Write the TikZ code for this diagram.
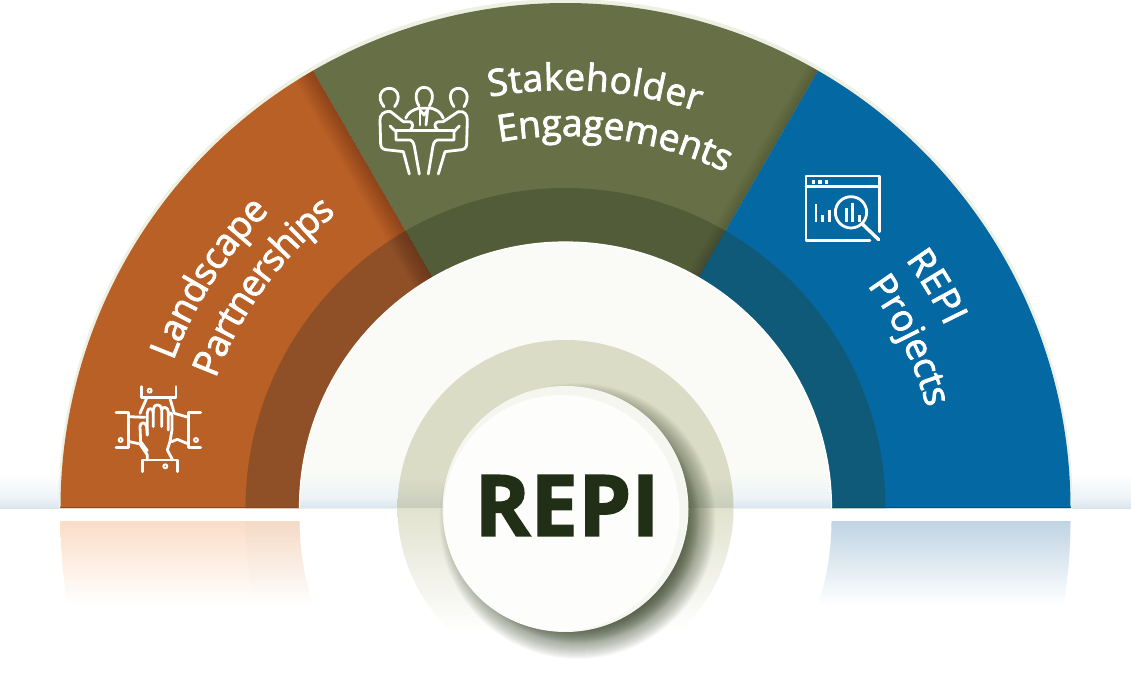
\documentclass[tikz,border=0pt]{standalone}
\usepackage{fontspec}
\newfontfamily\lab[FakeBold=2.2]{Open Sans}
\newfontfamily\hubfont[BoldFeatures={FakeBold=1.6}]{Open Sans}
\newcommand{\labsize}{\fontsize{37}{37}\selectfont}
\definecolor{org}{HTML}{B96027}
\definecolor{orgd}{HTML}{8F5028}
\definecolor{grn}{HTML}{676F46}
\definecolor{grnd}{HTML}{535C38}
\definecolor{blu}{HTML}{0468A3}
\definecolor{blud}{HTML}{0F5A78}
\definecolor{inner}{HTML}{FAFBF6}
\definecolor{hz}{HTML}{DAE6EE}
\definecolor{ringc}{HTML}{DADCC5}
\definecolor{rimc}{HTML}{EFF0E4}
\definecolor{shc}{HTML}{3E4A30}
\definecolor{hubtxt}{HTML}{212F17}
\newcommand{\segpath}[4]{(#1:#3) arc[start angle=#1,end angle=#2,radius=#3] -- (#2:#4) arc[start angle=#2,end angle=#1,radius=#4] -- cycle}
\newcommand{\curvelabel}[4]{%
 \gdef\cumw{0}%
 \foreach \ch/\w in {#4}{\pgfmathsetmacro\tmpw{\cumw+\w}\xdef\cumw{\tmpw}}%
 \global\let\totw\cumw
 \gdef\cumw{0}%
 \foreach \ch/\w in {#4}{%
  \pgfmathsetmacro\ang{#1+(#2-(#1))*((\cumw+0.5*\w)/\totw)}%
  \node[lettr,rotate=\ang-90] (glyph-\ch) at (\ang:#3) {\ch};
  \pgfmathsetmacro\tmpw{\cumw+\w}\xdef\cumw{\tmpw}%
 }}
\tikzset{icon/.style={draw=white,line width=2.8pt,line cap=round,line join=round,fill=none},
 zoomed/.style={x=0.3333pt,y=-0.3333pt},
 lettr/.style={font=\lab\labsize,text=white,inner sep=0pt,anchor=base}}
\begin{document}
\begin{tikzpicture}[x=1pt,y=1pt]
\useasboundingbox (-565.5,-169) rectangle (565.5,508);
\fill[white] (-565.5,-169) rectangle (565.5,508);
% horizon haze
\shade[top color=white,bottom color=white!50!hz] (-565.5,10) rectangle (565.5,34);
\shade[top color=white!50!hz,bottom color=hz] (-565.5,0) rectangle (565.5,10);
% rim
\begin{scope}
\clip (-520,0) rectangle (520,520);
\fill[rimc] (0,2) circle[radius=507];
\end{scope}
% bands
\fill[org] \segpath{180}{120}{505}{266};
\fill[grn] \segpath{120}{60}{505}{266};
\fill[blu] \segpath{60}{0}{505}{266};
\fill[orgd] \segpath{180}{120}{320}{266};
\fill[grnd] \segpath{120}{60}{320}{266};
\fill[blud] \segpath{60}{0}{320}{266};
% shadows cast across the boundaries
\begin{scope}
\clip \segpath{180}{120}{505}{266};
\foreach \w in {3,6,...,42}{\draw[black,opacity=0.014,line width=\w pt] (120:240) -- (120:520);}
\end{scope}
\begin{scope}
\clip \segpath{120}{60}{505}{266};
\foreach \w in {3,6,...,24}{\draw[black,opacity=0.014,line width=\w pt] (60:240) -- (60:520);}
\end{scope}
\draw[org!75!black,line width=1pt] (-505,0.5) -- (-266,0.5);
\draw[blu!75!black,line width=1pt] (266,0.5) -- (505,0.5);
% inner half disc
\fill[inner] (-266,0) arc[start angle=180,end angle=0,radius=266] -- cycle;
\begin{scope}
\clip (-266,0) arc[start angle=180,end angle=0,radius=266] -- cycle;
\shade[top color=inner,bottom color=white!50!hz] (-270,10) rectangle (270,36);
\shade[top color=white!50!hz,bottom color=hz] (-270,0) rectangle (270,10);
\end{scope}
\draw[white,line width=1.2pt] (-266,0) arc[start angle=180,end angle=0,radius=266];
% reflections
\shade[top color={rgb,255:red,251;green,221;blue,199},bottom color=white]
 (-505,-13) arc[start angle=180,end angle=189.6,radius=505] -- (-252.4,-97) arc[start angle=198.4,end angle=180,radius=266] -- cycle;
\shade[top color={rgb,255:red,191;green,212;blue,227},bottom color=white]
 (505,-13) arc[start angle=0,end angle=-9.6,radius=505] -- (252.4,-97) arc[start angle=-18.4,end angle=0,radius=266] -- cycle;
\shade[top color={rgb,255:red,241;green,216;blue,196},bottom color=white,opacity=0.5]
 (-320,-13) arc[start angle=180,end angle=195.2,radius=320] -- (-252.4,-97) arc[start angle=198.4,end angle=180,radius=266] -- cycle;
% halo ring
\begin{scope}
\clip (0,0) circle[radius=168];
\fill[ringc] (-170,30) rectangle (170,170);
\shade[top color=ringc,bottom color=ringc!80!hz!92!black] (-170,0) rectangle (170,30);
\shade[top color={rgb,255:red,225;green,226;blue,206},bottom color=white] (-170,0) rectangle (170,-124);
\end{scope}
% hub shadow
\foreach \r in {123,124,...,138}{\fill[shc,opacity=0.03] (12,-13) circle[radius=\r];}
\foreach \r in {100,101,...,122}{\fill[shc,opacity=0.07] (12,-13) circle[radius=\r];}
\fill[rimc!60!white] (0,-1) circle[radius=123];
\fill[white!70!inner] (-4,-5) circle[radius=118];
\node[font=\hubfont\bfseries\fontsize{85}{85}\selectfont,text=hubtxt,inner sep=0pt] (hub) at (1.5,2.5) {REPI};
% band titles
\curvelabel{159.4}{135}{419}{L/1062,a/1139,n/1257,d/1255,s/977,c/975,a/1139,p/1255,e/1149}
\curvelabel{159.6}{128}{373}{P/1233,a/1139,r/836,t/723,n/1257,e/1149,r/836,s/977,h/1257,i/518,p/1255,s/977}
\curvelabel{100.5}{71.5}{418}{S/1124,t/723,a/1139,k/1075,e/1149,h/1257,o/1237,l/518,d/1255,e/1149,r/836}
\curvelabel{100.3}{64.5}{372}{E/1147,n/1257,g/1122,a/1139,g/1122,e/1149,m/1905,e/1149,n/1257,t/723,s/977}
\curvelabel{36.2}{25.5}{421}{R/1266,E/1147,P/1233,I/571}
\curvelabel{36.4}{15.5}{375}{P/1233,r/836,o/1237,j/518,e/1149,c/975,t/723,s/977}
% hands icon
\begin{scope}[shift={(-475.5,138)},zoomed]
\draw[icon] (155,50)--(155,82)--(258,82)--(258,50);
\draw[icon] (158,305)--(158,270)--(262,270)--(262,305);
\draw[icon] (78,127)--(115,127)--(115,232)--(78,232);
\draw[icon] (332,127)--(295,127)--(295,232)--(332,232);
\foreach \p in {(179,62),(226,289),(92,210),(318,210)}{\fill[white] \p circle[radius=9]; \fill[org] \p circle[radius=2.5];}
\draw[icon] (170,85)--(150,130); \draw[icon] (240,85)--(253,130)--(295,142);
\draw[icon] (115,140)--(165,142); \draw[icon] (295,222)--(262,208)--(245,215);
\draw[icon] (118,215)--(150,222)--(172,255)--(172,270);
\draw[icon] (172,242)--(152,215)--(150,170) .. controls (150,155) and (168,155) .. (170,170)--(172,195);
\draw[icon] (172,195)--(172,128) .. controls (172,112) and (190,112) .. (190,128)--(190,170);
\draw[icon] (190,128)--(190,118) .. controls (190,100) and (215,100) .. (215,118)--(215,170);
\draw[icon] (215,120) .. controls (216,108) and (235,110) .. (235,125)--(235,180);
\draw[icon] (235,135) .. controls (238,125) and (246,128) .. (246,138)--(246,180)--(240,215)--(232,240)--(247,268);
\end{scope}
% meeting icon
\begin{scope}[shift={(-205.5,438)},zoomed]
\draw[icon] (72,110) .. controls (48,80) and (65,55) .. (88,55) .. controls (112,55) and (125,82) .. (104,110);
\draw[icon] (177,108) .. controls (160,80) and (170,52) .. (192,52) .. controls (216,52) and (226,80) .. (208,108);
\draw[icon] (282,110) .. controls (262,82) and (272,55) .. (295,55) .. controls (318,55) and (332,80) .. (312,110);
\draw[icon] (92,125) .. controls (70,122) and (60,135) .. (60,150)--(62,222) .. controls (62,235) and (72,240) .. (85,240)--(130,245)--(148,312);
\draw[icon] (92,125)--(130,155)--(150,155) .. controls (160,158) and (160,172) .. (152,178);
\draw[icon] (295,125) .. controls (315,122) and (322,135) .. (322,150)--(320,222) .. controls (320,235) and (310,240) .. (298,240)--(255,245)--(235,312);
\draw[icon] (295,125)--(250,155)--(235,155) .. controls (222,158) and (222,172) .. (232,178);
\draw[icon] (90,168)--(108,185)--(108,210)--(150,210) .. controls (160,212) and (163,225) .. (165,240)--(178,312);
\draw[icon] (298,168)--(282,185)--(282,210)--(232,210) .. controls (222,212) and (219,225) .. (217,240)--(205,312);
\draw[icon] (108,181)--(282,181);
\draw[icon] (137,145) .. controls (145,125) and (160,120) .. (175,115)--(215,115) .. controls (230,120) and (242,125) .. (250,145);
\draw[icon] (180,118)--(180,165); \draw[icon] (203,118)--(198,165);
\draw[icon] (180,120)--(192,135)--(203,120);
\end{scope}
% window icon
\begin{scope}[shift={(224.5,343)},zoomed]
\draw[icon] (268,200)--(268,33)--(48,33)--(48,226)--(240,226);
\draw[icon] (48,65)--(268,65);
\foreach \x in {70,90,110}{\fill[white] (\x-5,46) rectangle (\x+5,56);}
\draw[icon,line cap=butt] (78,118)--(78,170);
\draw[icon,line cap=butt] (98,150)--(98,170);
\draw[icon,line cap=butt] (118,135)--(118,170);
\draw[icon,line cap=butt] (170,130)--(170,170);
\draw[icon,line cap=butt] (188,115)--(188,170);
\draw[icon,line cap=butt] (208,150)--(208,170);
\draw[icon] (183,142) circle[radius=47];
\draw[icon,line width=3.4pt] (218,178)--(266,224);
\end{scope}
\end{tikzpicture}
\end{document}
